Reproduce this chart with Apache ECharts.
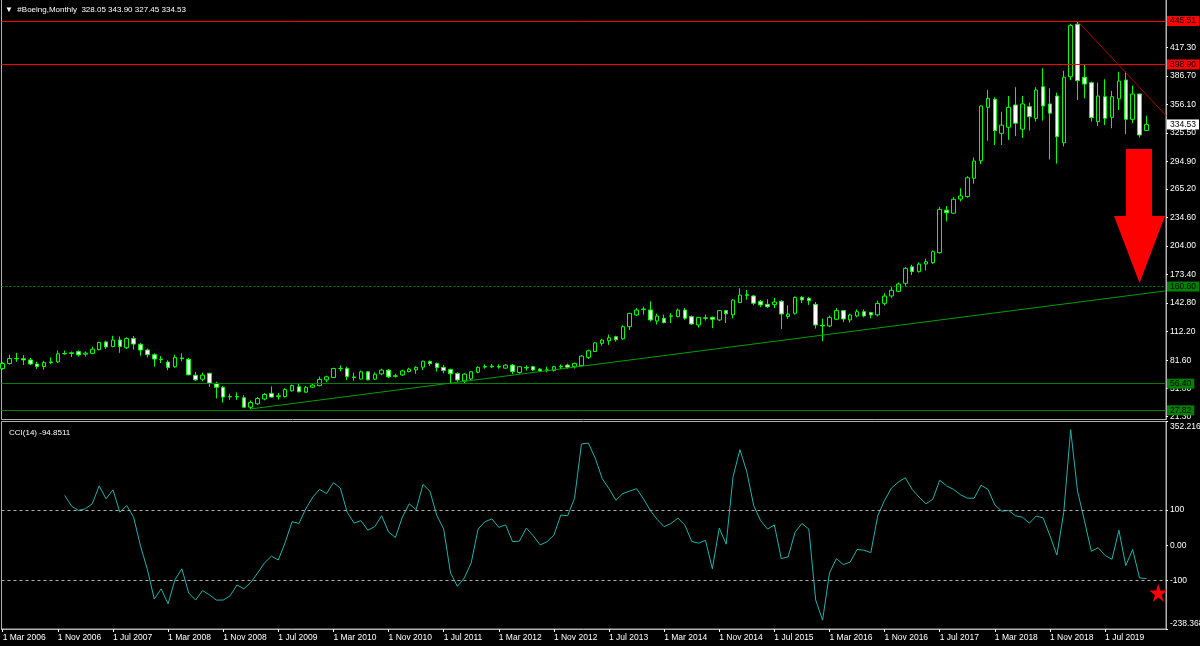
<!DOCTYPE html>
<html><head><meta charset="utf-8">
<script src="https://cdn.jsdelivr.net/npm/echarts@6/dist/echarts.min.js"></script>
<style>html,body{margin:0;padding:0;background:#000;}#c{width:1200px;height:646px;}</style>
</head><body><div id="c"></div>
<script>
// ---- Boeing monthly candles, Mar 2006 .. Jan 2020 (index 0 = Mar 2006) ----
const opens = [
72.6,78.0,83.4,83.2,81.9,77.5,74.8,79.0,79.8,88.5,
88.8,90.8,88.0,88.9,93.0,101.2,96.2,103.2,95.0,104.8,
98.6,92.5,87.5,82.8,79.6,74.6,84.0,82.5,65.4,61.2,
67.5,56.8,52.5,42.2,42.6,41.3,31.2,34.8,40.0,45.8,
42.6,42.6,48.7,53.0,47.3,52.6,54.3,60.5,63.0,72.8,
72.7,63.6,61.3,69.1,61.3,66.9,70.9,64.3,65.8,69.4,
71.2,74.1,80.3,78.1,73.9,71.7,67.4,59.4,61.5,68.7,
74.2,74.4,74.8,73.1,76.3,68.4,73.8,74.6,72.0,70.6,
70.4,74.5,76.3,74.7,75.8,84.7,90.9,99.7,102.5,106.8,
104.5,117.5,130.1,135.8,135.5,123.7,126.5,128.7,128.4,135.4,
128.3,119.4,127.0,127.6,124.8,134.8,130.2,143.4,151.8,150.5,
144.8,141.5,141.2,144.8,128.4,131.9,149.0,148.0,141.5,119.0,
118.3,125.5,134.8,124.8,129.1,133.6,132.7,130.2,142.6,150.5,
155.5,164.1,181.8,176.6,184.8,186.3,197.0,242.6,239.3,254.5,
257.1,276.8,295.6,352.9,361.5,325.0,331.5,355.4,329.4,353.6,
341.1,375.0,356.5,365.0,314.9,385.8,442.0,385.1,379.3,337.5,
364.3,342.2,362.0,382.2,340.0,367.2,328.05];
const highs = [
79.5,87.5,89.5,87.0,84.0,80.0,81.0,84.5,92.0,92.0,
91.0,92.0,91.0,96.0,101.5,102.5,107.8,107.0,106.0,107.5,
100.0,94.0,89.0,86.0,81.5,87.5,89.0,84.0,69.0,68.3,
68.0,58.5,54.0,45.5,47.0,44.0,38.5,42.0,46.5,53.5,
46.5,51.5,55.5,56.0,54.0,56.5,64.0,65.0,73.5,76.0,
74.5,68.3,70.5,70.0,68.5,72.5,72.0,67.0,71.5,73.5,
75.0,81.0,81.2,79.0,76.5,72.5,68.5,67.5,70.0,75.0,
77.0,77.5,77.0,77.5,77.5,75.0,76.0,75.5,73.0,74.5,
75.5,77.0,78.0,79.0,87.0,93.0,100.8,104.5,109.0,107.8,
119.0,132.5,137.5,139.0,144.6,131.5,130.5,132.0,137.0,137.5,
129.5,128.0,130.5,128.3,135.5,135.5,147.0,158.8,157.0,151.5,
146.0,147.0,148.5,146.0,140.5,150.0,150.5,149.5,144.0,126.0,
129.5,137.5,135.5,131.5,136.0,136.0,133.5,145.5,153.5,160.0,
165.0,181.5,184.0,186.5,190.5,199.5,246.0,247.0,256.5,266.0,
279.0,299.0,354.9,371.6,363.7,348.0,365.0,374.5,365.0,358.0,
374.5,394.8,373.4,368.6,392.0,442.5,445.51,398.9,380.5,379.3,
383.0,370.4,391.0,391.1,376.0,367.5,343.90];
const lows = [
71.5,77.0,80.0,76.5,76.5,72.3,71.5,77.3,78.5,87.5,
85.0,85.5,85.5,88.0,92.0,93.5,95.5,89.5,93.5,93.0,
86.5,84.5,74.5,78.5,71.0,73.5,80.5,65.5,59.5,59.0,
53.0,40.5,36.0,39.0,39.0,30.5,29.05,33.5,38.5,41.5,
39.5,41.5,48.0,47.0,46.5,52.0,53.5,58.0,62.5,69.5,
60.5,59.5,61.0,60.0,60.5,65.5,62.5,63.0,64.5,68.5,
67.0,71.0,75.5,69.5,67.5,56.0,58.5,57.0,60.5,67.5,
72.5,73.0,72.5,72.5,66.5,67.0,70.5,70.0,69.0,68.5,
69.5,72.0,72.5,72.5,75.0,83.0,90.5,97.0,98.0,101.5,
103.5,114.0,129.0,130.5,123.0,120.0,121.0,121.5,127.5,125.0,
119.5,116.5,124.0,116.0,123.5,121.5,126.5,143.0,146.5,140.5,
138.5,137.5,137.5,115.0,126.0,130.5,143.0,141.0,115.5,102.1,
117.0,124.5,122.5,122.0,127.5,127.5,126.5,128.5,140.5,148.5,
154.5,160.5,173.0,175.5,178.0,185.0,196.0,230.5,238.5,252.0,
256.0,271.0,292.0,317.0,312.5,312.5,318.0,322.0,320.0,328.0,
337.5,338.6,297.0,292.5,311.0,382.0,360.8,362.6,337.5,332.9,
333.9,330.4,350.0,324.3,336.0,320.5,327.45];
const closes = [
78.0,83.4,83.2,81.9,77.5,74.8,79.0,79.8,88.5,88.8,
89.6,87.3,89.2,93.4,100.6,95.8,103.2,96.3,104.8,98.9,
92.5,87.5,82.8,82.4,73.8,84.6,83.3,65.9,60.5,65.6,
57.0,52.5,42.0,42.6,42.2,31.2,36.2,40.5,44.8,42.0,
43.4,50.0,54.4,47.7,52.4,54.8,60.9,63.7,72.7,72.6,
64.0,63.0,69.1,60.6,66.6,70.9,63.7,64.9,70.1,72.0,
73.9,80.5,77.9,73.6,70.4,67.0,60.4,66.7,69.2,73.9,
74.8,75.3,74.2,76.3,69.4,74.6,73.3,71.2,70.1,71.3,
74.6,75.2,74.1,78.1,86.0,91.7,100.2,103.2,105.6,103.5,
117.5,131.8,135.4,136.5,124.8,128.9,122.0,129.2,135.4,126.6,
120.5,127.5,126.5,125.4,134.8,131.4,146.1,151.4,151.2,142.7,
140.9,138.9,144.0,131.2,131.1,148.9,146.3,145.5,119.4,118.4,
127.5,134.8,125.8,130.1,133.6,129.1,130.2,142.5,150.4,156.6,
163.3,180.1,176.6,184.7,187.2,198.0,243.4,239.9,254.2,257.8,
277.3,295.2,354.3,362.5,327.8,333.8,352.9,335.8,356.5,342.8,
371.5,354.4,346.6,321.4,385.1,440.5,381.5,377.9,341.8,365.0,
341.1,364.3,381.1,340.0,367.2,323.2,334.53];

// ---- CCI(14), first value at candle index 9 ----
const cciStart = 9;
const cci = [
142,111,99,104,118,169,132,158,94,113,
80,-2,-69,-153,-124,-167,-98,-67,-136,-156,
-129,-141,-156,-156,-144,-113,-124,-106,-79,-50,
-31,-42,8,67,62,104,137,159,147,178,
163,94,63,70,43,53,84,38,22,80,
118,101,173,154,85,46,-79,-117,-93,-50,
46,67,75,51,58,10,12,49,27,1,
10,29,86,84,134,288,291,248,190,161,
128,147,154,161,132,99,73,53,62,77,
58,11,6,14,-67,49,3,195,272,209,
113,70,46,58,-38,-33,37,62,46,-156,
-213,-79,-38,-55,-48,-12,-14,-21,84,128,
163,180,192,159,137,118,131,185,169,159,
144,134,134,171,159,115,97,99,84,80,
63,83,78,27,-28,94,329,154,70,-17,
-7,-29,-40,43,-58,-12,-93,-94.85];

// ---- axes ----
const priceTicks = [417.30,386.70,356.10,325.50,294.90,265.20,234.60,204.00,173.40,142.80,112.20,81.60,51.00,21.30];
const cciMin = -238.368, cciMax = 352.216;
const cciTicks = [cciMax,100,0,-100,cciMin];
const cciLevels = [100,-100];
const xTickLabels = ['1 Mar 2006','1 Nov 2006','1 Jul 2007','1 Mar 2008','1 Nov 2008','1 Jul 2009','1 Mar 2010',
  '1 Nov 2010','1 Jul 2011','1 Mar 2012','1 Nov 2012','1 Jul 2013','1 Mar 2014','1 Nov 2014','1 Jul 2015',
  '1 Mar 2016','1 Nov 2016','1 Jul 2017','1 Mar 2018','1 Nov 2018','1 Jul 2019'];
const monthsPerTick = 8;
const xMin = -0.174, xMax = 168.84;
const priceMin = 17.96, priceMax = 469.12;

// ---- chart objects (data coordinates) ----
const redLevels = [445.51, 398.90];
const greenLevels = [56.40, 27.82];
const dashedLevel = 160.60;
const lastPrice = 334.53;
const supportLine = [[36, 29.3], [168.84, 156.0]];
const resistanceLine = [[156, 445.51], [168.84, 344.0]];
const arrowAt = [165.0, 236.3];
const starAt = [167.72, -135];

const FONT = 'Liberation Sans, Arial, DejaVu Sans, sans-serif';
const FS = 8.5;

const candleData = opens.map((o, i) => [i, o, closes[i], lows[i], highs[i]]);
const cciData = cci.map((v, i) => [cciStart + i, v]);
const xTickIdx = xTickLabels.map((_, i) => i * monthsPerTick);

function boxLabel(bg, fg) {
  return {show: true, position: 'end', distance: 1, formatter: p => Number(p.value).toFixed(2),
    backgroundColor: bg, color: fg, padding: [1, 3, 0, 3], fontSize: FS, fontFamily: FONT};
}

const markLines = [];
redLevels.forEach(v => markLines.push({yAxis: v, lineStyle: {color: '#ff0000', width: 1, type: 'solid'}, label: boxLabel('#ff0000', '#000')}));
markLines.push({yAxis: dashedLevel, lineStyle: {color: '#008000', width: 1, type: [2, 2]}, label: boxLabel('#008000', '#000')});
greenLevels.forEach(v => markLines.push({yAxis: v, lineStyle: {color: '#008000', width: 1, type: 'solid'}, label: boxLabel('#008000', '#000')}));
markLines.push({yAxis: lastPrice, lineStyle: {color: 'rgba(0,0,0,0)', width: 0}, label: boxLabel('#ffffff', '#000')});
markLines.push([{coord: supportLine[0], lineStyle: {color: '#00a000', width: 1, type: 'solid'}, label: {show: false}}, {coord: supportLine[1]}]);
markLines.push([{coord: resistanceLine[0], lineStyle: {color: '#b00000', width: 1, type: 'solid'}, label: {show: false}}, {coord: resistanceLine[1]}]);

function cciLabel(v) {
  if (Math.abs(v - cciMax) < 1e-6) return '{top|' + String(cciMax) + '}';
  if (Math.abs(v - cciMin) < 1e-6) return '{bot|' + String(cciMin) + '}';
  return v === 0 ? '0.00' : String(v);
}

const chart = echarts.init(document.getElementById('c'), null, {renderer: 'canvas'});
chart.setOption({
  backgroundColor: '#000',
  animation: false,
  title: [
    {text: '\u25BC  #Boeing,Monthly  328.05 343.90 327.45 334.53', left: 0, top: 1,
      textStyle: {color: '#fff', fontSize: 8, fontWeight: 'normal', fontFamily: FONT}},
    {text: 'CCI(14) -94.8511', left: 4, top: 424,
      textStyle: {color: '#fff', fontSize: 8, fontWeight: 'normal', fontFamily: FONT}}
  ],
  grid: [
    {left: 1.5, top: -1, width: 1164.5, height: 420.5, show: true, borderColor: '#b0b0b0', borderWidth: 1, outerBoundsMode: 'none'},
    {left: 1.5, top: 421.5, width: 1164.5, height: 207.5, show: true, borderColor: '#b0b0b0', borderWidth: 1, outerBoundsMode: 'none'}
  ],
  xAxis: [
    {type: 'value', gridIndex: 0, min: xMin, max: xMax, show: false, splitLine: {show: false}},
    {type: 'value', gridIndex: 1, min: xMin, max: xMax,
      axisLine: {show: true, onZero: false, lineStyle: {color: '#b0b0b0'}},
      axisTick: {show: true, customValues: xTickIdx, length: 3, lineStyle: {color: '#fff'}},
      axisLabel: {show: true, customValues: xTickIdx, formatter: v => xTickLabels[Math.round(v / monthsPerTick)],
        color: '#fff', align: 'left', margin: 4, fontSize: FS, fontFamily: FONT},
      splitLine: {show: false}}
  ],
  yAxis: [
    {type: 'value', gridIndex: 0, position: 'right', min: priceMin, max: priceMax,
      axisLine: {show: true, onZero: false, lineStyle: {color: '#b0b0b0'}},
      axisTick: {show: true, customValues: priceTicks, length: 2, lineStyle: {color: '#fff'}},
      axisLabel: {show: true, customValues: priceTicks, formatter: v => v.toFixed(2), color: '#fff', margin: 4,
        fontSize: FS, fontFamily: FONT},
      splitLine: {show: false}},
    {type: 'value', gridIndex: 1, position: 'right', min: cciMin, max: cciMax,
      axisLine: {show: true, onZero: false, lineStyle: {color: '#b0b0b0'}},
      axisTick: {show: true, customValues: cciTicks, length: 2, lineStyle: {color: '#fff'}},
      axisLabel: {show: true, customValues: cciTicks, formatter: cciLabel, color: '#fff', margin: 4,
        fontSize: FS, fontFamily: FONT,
        rich: {
          top: {padding: [11, 0, 0, 0], color: '#fff', fontSize: FS, fontFamily: FONT},
          bot: {padding: [0, 0, 11, 0], color: '#fff', fontSize: FS, fontFamily: FONT}
        }},
      splitLine: {show: false}}
  ],
  series: [
    {type: 'candlestick', xAxisIndex: 0, yAxisIndex: 0, data: candleData, encode: {x: 0, y: [1, 2, 3, 4]},
      barWidth: 4, clip: false,
      itemStyle: {color: '#000', color0: '#fff', borderColor: '#00ff00', borderColor0: '#00ff00', borderWidth: 1},
      markLine: {symbol: ['none', 'none'], silent: true, animation: false, data: markLines},
      markPoint: {silent: true, animation: false, data: [
        {coord: arrowAt, symbol: 'path://M12,0L38,0L38,67L51,67L25.5,134L0,67L12,67Z', symbolSize: [51, 134],
          itemStyle: {color: '#ff0000'}, label: {show: false}}
      ]}
    },
    {type: 'line', xAxisIndex: 1, yAxisIndex: 1, data: cciData, symbol: 'none', clip: false,
      lineStyle: {color: '#20b2aa', width: 1},
      markLine: {symbol: ['none', 'none'], silent: true, animation: false, label: {show: false},
        lineStyle: {color: '#b0b0b0', width: 1, type: [3, 3]},
        data: cciLevels.map(v => ({yAxis: v}))},
      markPoint: {silent: true, animation: false, data: [
        {coord: starAt, symbol: 'path://M50,0L61,35L98,35L68,57L79,91L50,70L21,91L32,57L2,35L39,35Z', symbolSize: 18,
          itemStyle: {color: '#ff0000'}, label: {show: false}}
      ]}
    }
  ]
});
</script>
</body></html>
